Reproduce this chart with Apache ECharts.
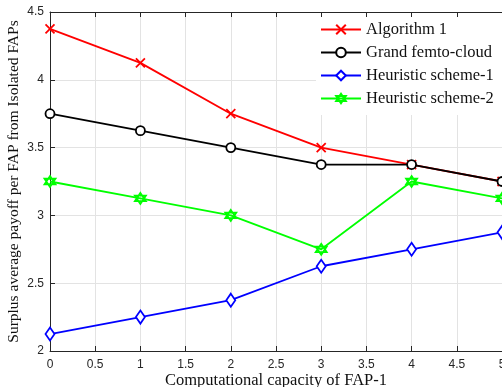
<!DOCTYPE html>
<html><head><meta charset="utf-8">
<script src="https://cdn.jsdelivr.net/npm/echarts@6/dist/echarts.min.js"></script>
<style>html,body{margin:0;padding:0;background:#fff}#c{width:502px;height:387px}</style>
</head><body><div id="c"></div>
<script>
var xValues = [0, 1, 2, 3, 4, 5];
var algorithm1 = [4.375, 4.125, 3.75, 3.5, 3.375, 3.25];
var grandFemto = [3.75, 3.625, 3.5, 3.375, 3.375, 3.25];
var heuristic1 = [2.125, 2.25, 2.375, 2.625, 2.75, 2.875];
var heuristic2 = [3.25, 3.125, 3.0, 2.75, 3.25, 3.125];
var seriesNames = ['Algorithm 1', 'Grand femto-cloud', 'Heuristic scheme-1', 'Heuristic scheme-2'];

function pairs(ys){ return xValues.map(function(x,i){ return [x, ys[i]]; }); }
var crossPath = 'path://M0,0L10,10M10,0L0,10';
var hexPath = 'path://M5,0L9.33,7.5L0.67,7.5Z M5,10L0.67,2.5L9.33,2.5Z';

function mk(name, data, color, symbol, size, fill){
  return {
    name: name, type: 'line', data: pairs(data),
    symbol: symbol, symbolSize: size,
    lineStyle: {color: color, width: 1.8},
    itemStyle: {color: fill, borderColor: color, borderWidth: 1.8},
    emphasis: {disabled: true},
    z: 3
  };
}
var serif = 'Liberation Serif';
var tickFont = {fontFamily: 'Liberation Sans', fontSize: 12, color: '#262626'};
var chart = echarts.init(document.getElementById('c'), null, {renderer: 'canvas'});
chart.setOption({
  animation: false,
  backgroundColor: '#fff',
  grid: {left: 50, right: 0, top: 12, bottom: 36, containLabel: false, outerBoundsMode: 'none'},
  legend: {
    orient: 'vertical', left: 316, top: 17, itemGap: 6,
    itemWidth: 40, itemHeight: 12,
    backgroundColor: '#fff', padding: [4, 20, 8, 4],
    textStyle: {fontFamily: serif, fontSize: 16.5, color: '#111'},
    data: seriesNames
  },
  xAxis: [{
    type: 'value', min: 0, max: 5, interval: 0.5,
    name: 'Computational capacity of FAP-1', nameLocation: 'middle', nameGap: 21,
    nameMoveOverlap: false,
    nameTextStyle: {fontFamily: serif, fontSize: 16.5, color: '#111', lineHeight: 17},
    axisLine: {show: true, onZero: false, lineStyle: {color: '#262626', width: 1}},
    axisTick: {show: true, inside: true, length: 5, lineStyle: {color: '#262626'}},
    axisLabel: Object.assign({margin: 8}, tickFont),
    splitLine: {show: true, lineStyle: {color: '#e3e3e3', width: 1}}
  }, {
    type: 'value', min: 0, max: 5, interval: 0.5, position: 'top',
    axisLine: {show: true, onZero: false, lineStyle: {color: '#262626', width: 1}},
    axisTick: {show: true, inside: true, length: 5, lineStyle: {color: '#262626'}},
    axisLabel: {show: false}, splitLine: {show: false}
  }],
  yAxis: {
    type: 'value', min: 2, max: 4.5, interval: 0.5,
    name: 'Surplus average payoff per FAP from Isolated FAPs', nameLocation: 'middle', nameGap: 28,
    nameMoveOverlap: false,
    nameTextStyle: {fontFamily: serif, fontSize: 15.5, color: '#111'},
    axisLine: {show: true, onZero: false, lineStyle: {color: '#262626', width: 1}},
    axisTick: {show: true, inside: true, length: 5, lineStyle: {color: '#262626'}},
    axisLabel: Object.assign({margin: 6, formatter: function(v){ return String(v); }}, tickFont),
    splitLine: {show: true, lineStyle: {color: '#e3e3e3', width: 1}}
  },
  series: [
    mk(seriesNames[0], algorithm1, '#ff0000', crossPath, 9, '#ff0000'),
    mk(seriesNames[1], grandFemto, '#000000', 'circle', 9, '#ffffff'),
    mk(seriesNames[2], heuristic1, '#0000ff', 'diamond', [9, 13], '#ffffff'),
    mk(seriesNames[3], heuristic2, '#00ff00', hexPath, 11, 'rgba(255,255,255,0)')
  ]
});
</script></body></html>
